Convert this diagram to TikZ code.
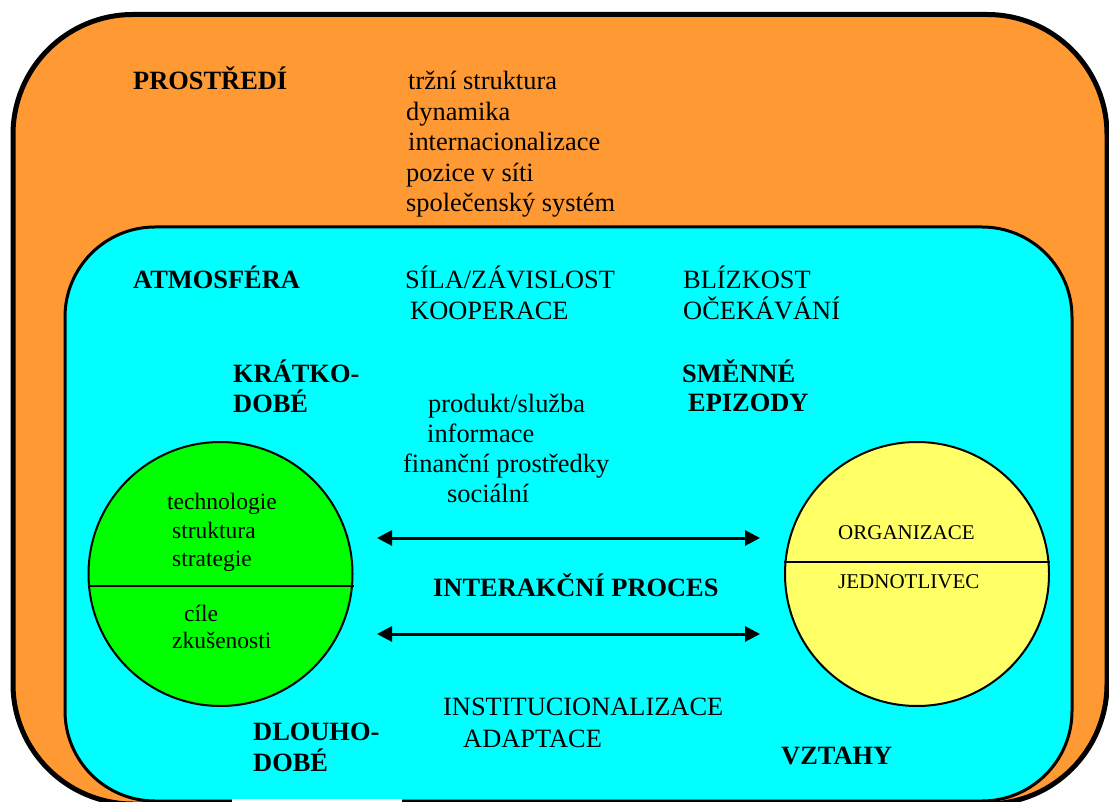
\documentclass[tikz,border=0pt]{standalone}
\usepackage{fontspec}
\setmainfont{Liberation Serif}
\usetikzlibrary{arrows.meta}
\definecolor{envorange}{RGB}{255,153,51}
\definecolor{atmocyan}{RGB}{0,255,255}
\definecolor{orggreen}{RGB}{0,255,0}
\definecolor{indyellow}{RGB}{255,255,102}
\tikzset{
  txt/.style={anchor=base west, inner sep=0pt, font=\fontsize{26.4}{30}\selectfont},
  head/.style={txt, font=\fontsize{26.4}{30}\selectfont\bfseries},
  gtxt/.style={txt, font=\fontsize{23.5}{28}\selectfont},
  ytxt/.style={txt, font=\fontsize{21}{25}\selectfont},
  party/.style={circle, draw=black, line width=2pt, minimum size=264pt, inner sep=0pt},
  flow/.style={line width=3pt, {Triangle[length=15pt,width=15pt]}-{Triangle[length=15pt,width=15pt]}}
}
\begin{document}
\begin{tikzpicture}[x=1pt, y=-1pt]
\useasboundingbox (0,0) rectangle (1109,802);

% environment and atmosphere frames
\draw[fill=envorange, line width=5pt, rounded corners=120pt] (13,14.5) rectangle (1107,804);
\draw[fill=atmocyan, line width=3pt, rounded corners=90pt] (65,227) rectangle (1072,801);
\fill[white] (232,799) rectangle (402,803);

% the two parties
\node[party, fill=orggreen] (orgA) at (220.5,574) {};
\draw[line width=2pt] (orgA.west |- 0,586) -- (orgA.east |- 0,586);
\node[party, fill=indyellow] (orgB) at (917,574) {};
\draw[line width=2pt] ([yshift=12pt]orgB.west) -- ([yshift=12pt]orgB.east);

% interaction arrows
\coordinate (u1) at (377,538);
\coordinate (u2) at (760,538);
\coordinate (l1) at (377,634);
\coordinate (l2) at (760,634);
\draw[flow] (u1) -- (u2);
\draw[flow] (l1) -- (l2);

% environment
\node[head] (prostredi) at (133,90) {PROSTŘEDÍ};
\node[txt] (e1) at (408,90) {tržní struktura};
\node[txt] (e2) at (406,120.5) {dynamika};
\node[txt] (e3) at (408,151) {internacionalizace};
\node[txt] (e4) at (406,181.5) {pozice v síti};
\node[txt] (e5) at (406,212) {společenský systém};

% atmosphere
\node[head] (atmo) at (133,289) {ATMOSFÉRA};
\node[txt] (a1) at (405,289) {SÍLA/ZÁVISLOST};
\node[txt] (a2) at (410,320) {KOOPERACE};
\node[txt] (a3) at (683,289) {BLÍZKOST};
\node[txt] (a4) at (683,320) {OČEKÁVÁNÍ};

% short term / exchange episodes
\node[head] (kr1) at (233,382) {KRÁTKO-};
\node[head] (kr2) at (233,412) {DOBÉ};
\node[head] (sm1) at (682,382) {SMĚNNÉ};
\node[head] (sm2) at (688,411) {EPIZODY};
\node[txt] (x1) at (428,412) {produkt/služba};
\node[txt] (x2) at (427,442) {informace};
\node[txt] (x3) at (403,472) {finanční prostředky};
\node[txt] (x4) at (447,502) {sociální};

% party contents
\node[gtxt] (g1) at (167,509) {technologie};
\node[gtxt] (g2) at (172,538) {struktura};
\node[gtxt] (g3) at (172,566) {strategie};
\node[gtxt] (g4) at (184,621) {cíle};
\node[gtxt] (g5) at (172,648) {zkušenosti};
\node[ytxt] (y1) at (838,539) {ORGANIZACE};
\node[ytxt] (y2) at (838,588) {JEDNOTLIVEC};

\node[head] (proc) at (433,596) {INTERAKČNÍ PROCES};

% long term / relationships
\node[txt] (r1) at (443,715) {INSTITUCIONALIZACE};
\node[txt] (r2) at (463,747) {ADAPTACE};
\node[head] (dl1) at (253,740) {DLOUHO-};
\node[head] (dl2) at (253,771) {DOBÉ};
\node[head] (vz) at (781,764) {VZTAHY};
\end{tikzpicture}
\end{document}
